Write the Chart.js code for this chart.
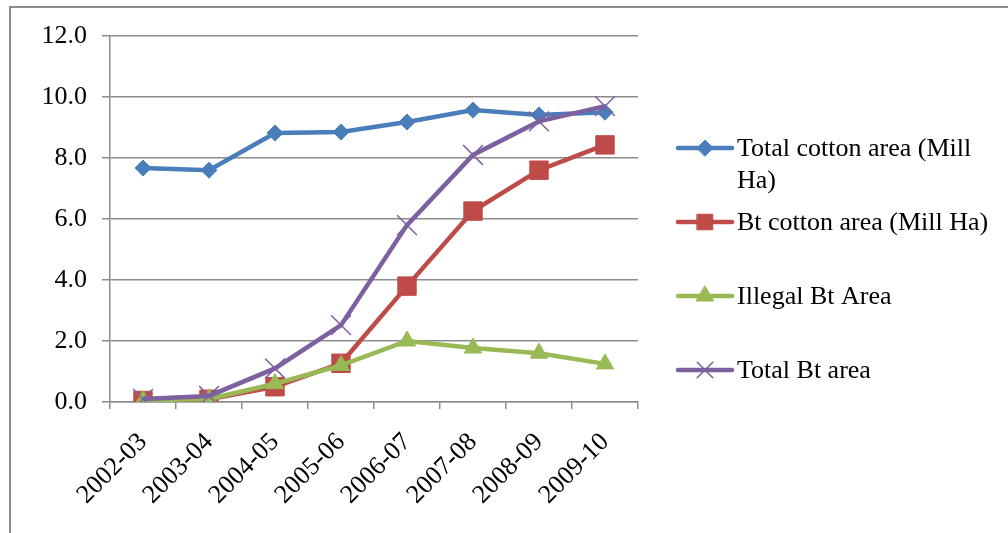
<!DOCTYPE html>
<html>
<head>
<meta charset="utf-8">
<script src="https://cdn.jsdelivr.net/npm/chart.js@4/dist/chart.umd.min.js"></script>
<style>
  html, body { margin: 0; padding: 0; background: #fff; }
  #wrap { position: relative; width: 1008px; height: 533px; overflow: hidden; }
  #frame { position: absolute; left: 9px; top: 6px; width: 1100px; height: 600px;
           border-left: 2px solid #8c8c8c; border-top: 2px solid #8c8c8c; pointer-events: none; }
</style>
</head>
<body>
<div id="wrap">
  <canvas id="chartArea" width="1008" height="533"></canvas>
  <div id="frame"></div>
</div>
<script>
  const seasons = ['2002-03', '2003-04', '2004-05', '2005-06', '2006-07', '2007-08', '2008-09', '2009-10'];
  const totalCotton = [7.67, 7.6, 8.82, 8.85, 9.18, 9.57, 9.41, 9.5];
  const btCotton = [0.05, 0.09, 0.5, 1.27, 3.8, 6.26, 7.6, 8.43];
  const illegalBt = [0.05, 0.1, 0.6, 1.2, 2.0, 1.77, 1.6, 1.25];
  const totalBt = [0.1, 0.2, 1.1, 2.52, 5.8, 8.1, 9.2, 9.7];
  const yTicks = [0, 2, 4, 6, 8, 10, 12];

  const FONT = "'Liberation Serif', 'Times New Roman', serif";
  const FSIZE = 26;

  function series(label, data, color, style, radius, order, pbw) {
    return {
      label, data, order,
      borderColor: color,
      backgroundColor: color,
      borderWidth: 4.5,
      pointStyle: style,
      pointRadius: radius,
      pointHoverRadius: radius,
      pointBorderWidth: pbw,
      pointBorderColor: color,
      pointBackgroundColor: color,
      tension: 0
    };
  }

  const datasets = [
    series('Total cotton area (Mill Ha)', totalCotton, '#4a7ebb', 'rectRot', 8, 3, 1),
    series('Bt cotton area (Mill Ha)', btCotton, '#be4b48', 'rect', 13, 2, 1),
    series('Illegal Bt Area', illegalBt, '#98b954', 'triangle', 10, 1, 1),
    series('Total Bt area', totalBt, '#7d60a0', 'crossRot', 14, 0, 1.5)
  ];

  // legend drawn by hand so the long label can wrap like the original
  const sideLegend = {
    id: 'sideLegend',
    afterDraw(chart) {
      const ctx = chart.ctx;
      const x0 = 678, x1 = 732, tx = 737, maxW = 262;
      ctx.save();
      ctx.font = FSIZE + 'px ' + FONT;
      ctx.textBaseline = 'middle';
      chart.data.datasets.forEach((ds, i) => {
        const y = 148 + i * 74;
        ctx.strokeStyle = ds.borderColor;
        ctx.fillStyle = ds.borderColor;
        ctx.lineWidth = 4.5;
        ctx.lineCap = 'round';
        ctx.beginPath();
        ctx.moveTo(x0, y);
        ctx.lineTo(x1, y);
        ctx.stroke();
        ctx.lineWidth = ds.pointBorderWidth;
        Chart.helpers.drawPoint(ctx, {
          pointStyle: ds.pointStyle, radius: Math.min(ds.pointRadius, 11),
          rotation: 0, borderWidth: ds.pointBorderWidth
        }, (x0 + x1) / 2, y);

        const words = ds.label.split(' ');
        const lines = [];
        let cur = '';
        words.forEach(w => {
          const t = cur ? cur + ' ' + w : w;
          if (ctx.measureText(t).width > maxW && cur) { lines.push(cur); cur = w; }
          else cur = t;
        });
        lines.push(cur);
        ctx.fillStyle = '#000';
        lines.forEach((ln, k) => ctx.fillText(ln, tx, y + 1 + k * 32));
      });
      ctx.restore();
    }
  };

  new Chart(document.getElementById('chartArea'), {
    type: 'line',
    data: { labels: seasons, datasets },
    options: {
      responsive: false,
      animation: false,
      events: [],
      layout: { padding: { left: 10, top: 36, right: 370, bottom: 0 } },
      plugins: { legend: { display: false }, tooltip: { enabled: false } },
      scales: {
        x: {
          offset: true,
          grid: { offset: true, drawOnChartArea: false, drawTicks: true, tickLength: 7, color: '#8c8c8c', lineWidth: 1.5 },
          border: { color: '#8c8c8c', width: 1.5 },
          ticks: { font: { family: FONT, size: FSIZE }, color: '#000', minRotation: 45, maxRotation: 45, autoSkip: false, padding: 18 },
          afterFit: s => { s.height = 131; }
        },
        y: {
          min: 0, max: 12,
          afterBuildTicks: s => { s.ticks = yTicks.map(v => ({ value: v })); },
          grid: { color: '#8c8c8c', lineWidth: 1.5, tickLength: 8 },
          border: { color: '#8c8c8c', width: 1.5 },
          ticks: { font: { family: FONT, size: FSIZE }, color: '#000', padding: 15, callback: v => v.toFixed(1) },
          afterFit: s => { s.width = 100; }
        }
      }
    },
    plugins: [sideLegend]
  });
</script>
</body>
</html>
